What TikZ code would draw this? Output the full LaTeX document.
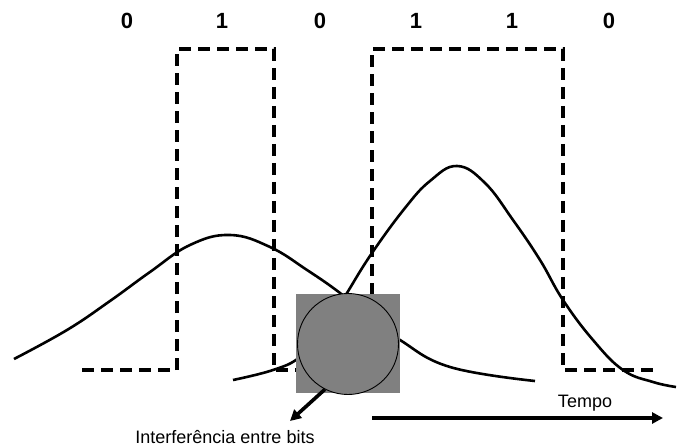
\documentclass[tikz,border=0pt]{standalone}
\usepackage{fontspec}
\setmainfont{Liberation Sans}
\usetikzlibrary{arrows.meta, positioning}
\definecolor{isigray}{RGB}{128,128,128}
\tikzset{
  bitlabel/.style={font=\fontsize{22}{26}\selectfont\bfseries, inner sep=0pt},
  signal/.style={draw=black, line width=3.8pt, dash pattern=on 12pt off 7pt},
  pulse/.style={draw=black, line width=2.6pt},
  isibox/.style={fill=isigray, minimum width=104pt, minimum height=99pt, inner sep=0pt},
  isicirc/.style={circle, draw=black, line width=0.9pt, fill=isigray,
    minimum size=101pt, inner sep=0pt},
  ptrarrow/.style={draw=black, line width=3.6pt, -{Triangle[length=11pt,width=11pt]}},
  caption/.style={font=\fontsize{18}{20}\selectfont, inner sep=0pt}
}

\begin{document}
\begin{tikzpicture}[x=1pt, y=-1pt]
  \useasboundingbox (0,0) rectangle (677,446);
  \node[bitlabel] (b1) at (127,20.5) {0};
  \node[bitlabel] (b2) at (222,20.5) {1};
  \node[bitlabel] (b3) at (320,20.5) {0};
  \node[bitlabel] (b4) at (416,20.5) {1};
  \node[bitlabel] (b5) at (512,20.5) {1};
  \node[bitlabel] (b6) at (609,20.5) {0};
  \draw[signal] (82,370) -- (177,370) -- (177,49) -- (274,49) -- (274,370)
    -- (372,370) -- (372,49) -- (563,49) -- (563,370) -- (655,370);
  \draw[pulse] plot[smooth, tension=0.7] coordinates {(14,359) (67,330) (110,301)
    (150,272) (190,245) (230,235) (270,247) (307,270) (340,293) (370,318)
    (400,340) (450,367) (535,381)};
  \draw[pulse] plot[smooth, tension=0.7] coordinates {(233,380) (273,370) (300,357)
    (325,330) (347,293) (372,253) (405,208) (430,181) (457,166) (485,183)
    (513,220) (540,260) (563,300) (593,340) (623,370) (653,382) (676,387)};
  \node[isibox] (isi) at (348,343.5) {};
  \node[isicirc] (blob) at (348,344) {};
  \coordinate (isitip) at (290,421);
  \draw[ptrarrow] (blob.243) -- (isitip);
  \node[caption] (isitext) at (225,437) {Interferência entre bits};
  \coordinate (tstart) at (372,418);
  \coordinate (tend) at (663,418);
  \draw[ptrarrow] (tstart) -- (tend);
  \node[caption] (tempo) at (585,403) {Tempo};
\end{tikzpicture}
\end{document}
